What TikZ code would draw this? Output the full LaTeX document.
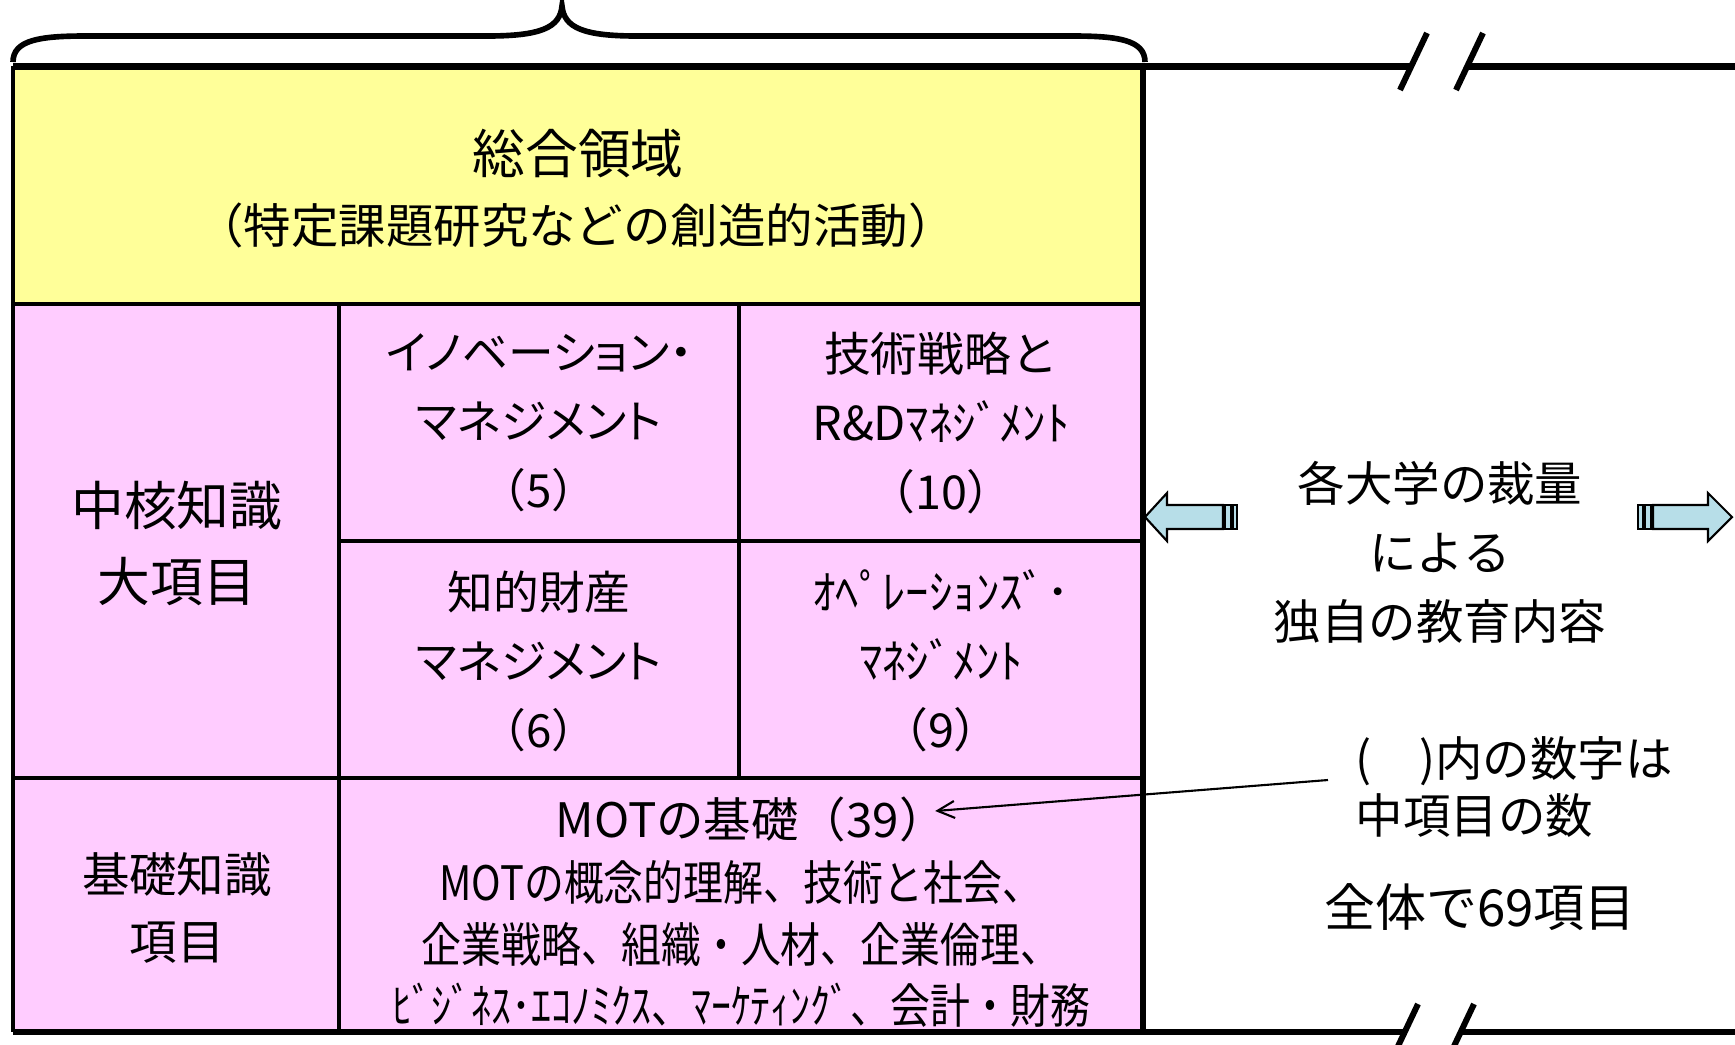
\documentclass[tikz,border=0pt]{standalone}
\usepackage{fontspec}
\setmainfont{Noto Sans CJK JP}
\newfontfamily\jpprop[RawFeature=+palt]{Noto Sans CJK JP}
\newfontfamily\jpnarrow[FakeStretch=0.84]{Noto Sans CJK JP}
\usetikzlibrary{arrows.meta}

\definecolor{areayellow}{HTML}{FFFF99}
\definecolor{areapink}{HTML}{FFCCFF}
\definecolor{arrowblue}{HTML}{B7DEE8}

\tikzset{
  lbl/.style={align=center, inner sep=0pt},
  divider/.style={line width=1.1pt},
  rule/.style={line width=1.9pt},
  breakmark/.style={line width=1.7pt},
  blockarrow/.style={fill=arrowblue, draw=black, line width=0.6pt, line join=miter}
}

\begin{document}
\begin{tikzpicture}[x=0.01cm,y=-0.01cm]
        \useasboundingbox (0,0) rectangle (1735,1044);

        % Coordinates in pixels of the original picture (y downwards)
        % frame: left 13, right 1143, top 66, bottom 1032
        % yellow band 66--304, left column up to 339

        % Coloured areas
        \fill[areayellow] (13,66) rectangle (1143,304);
        \fill[areapink] (13,304) rectangle (1143,1032);

        % Inner dividers
        \draw[divider] (13,304) -- (1143,304);
        \draw[divider] (339,304) -- (339,1032);
        \draw[divider] (739,304) -- (739,778);
        \draw[divider] (339,541) -- (1143,541);
        \draw[divider] (13,778) -- (1143,778);

        % Outer frame (left and right)
        \draw[line width=1.3pt] (13,66) -- (13,1032);
        \draw[line width=1.5pt] (1143,66) -- (1143,1032);

        % Top and bottom rules, broken on the right
        \draw[rule] (13,66.7) -- (1411,66.7);
        \draw[rule] (1467,66.7) -- (1735,66.7);
        \draw[breakmark] (1400,90) -- (1427,33);
        \draw[breakmark] (1456,90) -- (1483,33);
        \draw[rule] (13,1032) -- (1404,1032);
        \draw[rule] (1461,1032) -- (1735,1032);
        \draw[breakmark] (1391,1061) -- (1418,1004);
        \draw[breakmark] (1447,1061) -- (1474,1004);

        % Brace over the frame
        \draw[line width=1.6pt] (13,62) .. controls (13,40) and (40,36) .. (85,36)
            -- (487,36) .. controls (540,36) and (560,28) .. (562,6)
            .. controls (564,28) and (584,36) .. (637,36)
            -- (1073,36) .. controls (1118,36) and (1145,40) .. (1145,62);

        % Striped block arrows
        \draw[blockarrow] (1145,517) -- (1167,493) -- (1167,505) -- (1223,505)
            -- (1223,529) -- (1167,529) -- (1167,541) -- cycle;
        \foreach \a/\b in {1225/1231,1233/1237,1638/1643,1645/1651}
        {
            \draw[blockarrow] (\a,505) rectangle (\b,529);
        }
        \draw[blockarrow] (1732,517) -- (1708,493) -- (1708,505) -- (1653,505)
            -- (1653,529) -- (1708,529) -- (1708,541) -- cycle;

        % Texts in the frame
        \node[lbl, font=\fontsize{15}{18}\selectfont] (sogo) at (578,153) {総合領域};
        \node[lbl, font=\fontsize{13.5}{16}\selectfont] (sogosub) at (576,225) {（特定課題研究などの創造的活動）};
        \node[lbl, font=\fontsize{15}{21.6}\selectfont] (chukaku) at (177,543) {中核知識\\大項目};
        \node[lbl, font=\fontsize{13}{19.6}\selectfont] (innov) at (539,423)
            {{\jpprop イノベーション・}\\{\jpprop マネジメント}\\（5）};
        \node[lbl, font=\fontsize{13.3}{19.6}\selectfont] (rnd) at (941,423)
            {技術戦略と\\R\&Dﾏﾈｼﾞﾒﾝﾄ\\（10）};
        \node[lbl, font=\fontsize{13}{19.6}\selectfont] (chizai) at (539,661)
            {知的財産\\{\jpprop マネジメント}\\（6）};
        \node[lbl, font=\fontsize{13.3}{19.6}\selectfont] (opman) at (941,661)
            {ｵﾍﾟﾚｰｼｮﾝｽﾞ･\\ﾏﾈｼﾞﾒﾝﾄ\\（9）};
        \node[lbl, font=\fontsize{13.5}{19.2}\selectfont] (kiso) at (177,908) {基礎知識\\項目};
        \node[lbl, font=\fontsize{13.5}{16}\selectfont] (mottitle) at (751,819) {MOTの基礎（39）};
        \node[lbl, font=\jpnarrow\fontsize{13.5}{17.6}\selectfont] (motbody) at (741,944)
            {MOTの概念的理解、技術と社会、\\企業戦略、組織・人材、企業倫理、\\ﾋﾞｼﾞﾈｽ･ｴｺﾉﾐｸｽ、ﾏｰｹﾃｨﾝｸﾞ、会計・財務};

        % Texts on the right
        \node[lbl, font=\fontsize{13.5}{19.6}\selectfont] (jiyu) at (1440,552)
            {各大学の裁量\\による\\独自の教育内容};
        \node[lbl, align=left, anchor=west, font=\fontsize{13.5}{16.4}\selectfont] (kazu) at (1355,787)
            {(　)内の数字は\\中項目の数};
        \node[lbl, font=\fontsize{14.5}{17}\selectfont] (zentai) at (1480,907) {全体で69項目};

        % Leader to the MOT title
        \draw[line width=0.6pt, -{Straight Barb[length=0.17cm,width=0.17cm]}]
            ([shift={(-27,-7)}]kazu.west) -- ([shift={(-12,-8)}]mottitle.east);

\end{tikzpicture}
\end{document}
